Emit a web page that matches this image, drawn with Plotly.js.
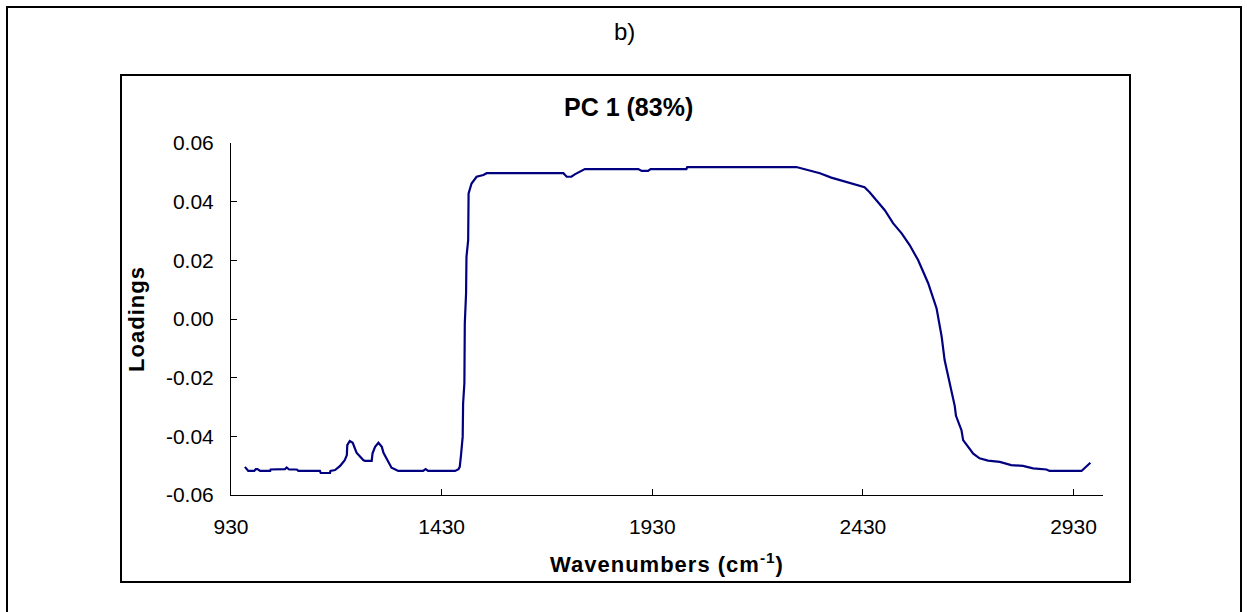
<!DOCTYPE html>
<html>
<head>
<meta charset="utf-8">
<script src="https://cdn.plot.ly/plotly-3.0.1.min.js"></script>
<style>
html,body{margin:0;padding:0;background:#fff;}
#chart{width:1247px;height:612px;}
#chart .xtitle, #chart .ytitle{letter-spacing:1px !important;}
</style>
</head>
<body>
<div id="chart"></div>
<script>
// Wavenumbers (cm-1)
const wavenumbers = [963,971,985,989,993,999,1023,1024,1058,1062,1068,1086,1090,1141,1143,1165,1166,1177,1189,1200,1205,1206,1212,1219,1228,1236,1244,1248,1264,1266,1272,1280,1288,1292,1303,1311,1319,1327,1386,1392,1398,1462,1470,1473,1476,1480,1481,1484,1485,1488,1489,1493,1494,1501,1513,1529,1537,1719,1727,1738,1746,1758,1770,1897,1905,1920,1926,2011,2013,2272,2296,2328,2355,2383,2403,2434,2446,2466,2482,2502,2522,2541,2561,2575,2585,2605,2617,2624,2636,2648,2651,2664,2668,2680,2692,2707,2727,2755,2782,2810,2834,2866,2873,2949,2970];
// PC 1 loadings
const loadings = [-0.0504,-0.0518,-0.0518,-0.0512,-0.0512,-0.0518,-0.0518,-0.0513,-0.0512,-0.0506,-0.0513,-0.0513,-0.0518,-0.0518,-0.0525,-0.0525,-0.0518,-0.0515,-0.0501,-0.0481,-0.0464,-0.0430,-0.0416,-0.0422,-0.0456,-0.0470,-0.0481,-0.0484,-0.0484,-0.0458,-0.0436,-0.0422,-0.0436,-0.0456,-0.0487,-0.0507,-0.0512,-0.0518,-0.0518,-0.0512,-0.0518,-0.0518,-0.0512,-0.0504,-0.0464,-0.0401,-0.0288,-0.0219,-0.0015,0.0087,0.0212,0.0269,0.0428,0.0462,0.0485,0.0491,0.0497,0.0497,0.0485,0.0485,0.0493,0.0502,0.0511,0.0511,0.0505,0.0505,0.0511,0.0511,0.0518,0.0518,0.0508,0.0497,0.0482,0.0470,0.0462,0.0449,0.0432,0.0400,0.0371,0.0326,0.0292,0.0252,0.0201,0.0155,0.0122,0.0036,-0.0060,-0.0140,-0.0219,-0.0296,-0.0330,-0.0379,-0.0413,-0.0436,-0.0459,-0.0475,-0.0483,-0.0487,-0.0498,-0.0501,-0.0509,-0.0513,-0.0518,-0.0518,-0.0490];

const xTickVals = [930,1430,1930,2430,2930];
const xTickText = ["930","1430","1930","2430","2930"];
const yTickVals = [-0.06,-0.04,-0.02,0,0.02,0.04,0.06];
const yTickText = ["-0.06","-0.04","-0.02","0.00","0.02","0.04","0.06"];

const panelLabel = "b)";
const chartTitle = "<b>PC 1 (83%)</b>";
const xTitle = "<b>Wavenumbers (cm<sup>-1</sup>)</b>";
const yTitle = "<b>Loadings</b>";

const FONT = "Liberation Sans, Arial, sans-serif";

// plot area in pixels: x 231..1103, y 143..495
const L = 231, R = 1103, T = 143, B = 495;
const W = 1247, H = 612;
const px = v => (v - L) / (R - L);
const py = v => (B - v) / (B - T);

const trace = {
  x: wavenumbers, y: loadings, type: 'scatter', mode: 'lines',
  line: {color: '#000080', width: 2.2}, hoverinfo: 'x+y'
};

const layout = {
  width: W, height: H,
  margin: {l: L, r: W - R, t: T, b: H - B, pad: 0},
  paper_bgcolor: '#fff', plot_bgcolor: '#fff',
  showlegend: false,
  font: {family: FONT, size: 21, color: '#000'},
  xaxis: {
    range: [930, 3000], tickvals: xTickVals, ticktext: xTickText,
    ticks: 'inside', ticklen: 6, tickwidth: 1, tickcolor: '#000',
    showline: true, linecolor: '#000', linewidth: 1,
    showgrid: false, zeroline: false, ticklabelstandoff: 13,
    tickfont: {family: FONT, size: 21},
    title: {text: xTitle, font: {family: FONT, size: 22}, standoff: 19}
  },
  yaxis: {
    range: [-0.06, 0.06], tickvals: yTickVals, ticktext: yTickText,
    ticks: 'inside', ticklen: 6, tickwidth: 1, tickcolor: '#000',
    showline: true, linecolor: '#000', linewidth: 1,
    showgrid: false, zeroline: false, ticklabelstandoff: 12,
    tickfont: {family: FONT, size: 21},
    title: {text: yTitle, font: {family: FONT, size: 22}, standoff: 15}
  },
  annotations: [
    {text: panelLabel, xref: 'paper', yref: 'paper', x: px(624), y: py(31),
     xanchor: 'center', yanchor: 'middle', showarrow: false,
     font: {family: FONT, size: 24}},
    {text: chartTitle, xref: 'paper', yref: 'paper', x: px(628), y: py(107),
     xanchor: 'center', yanchor: 'middle', showarrow: false,
     font: {family: FONT, size: 25}}
  ],
  shapes: [
    {type: 'rect', xref: 'paper', yref: 'paper', x0: px(7), x1: px(1241), y0: py(7), y1: py(640),
     line: {color: '#000', width: 2}, fillcolor: 'rgba(0,0,0,0)', layer: 'below'},
    {type: 'rect', xref: 'paper', yref: 'paper', x0: px(121), x1: px(1130), y0: py(75), y1: py(582),
     line: {color: '#000', width: 2}, fillcolor: 'rgba(0,0,0,0)', layer: 'below'}
  ]
};

Plotly.newPlot('chart', [trace], layout, {displayModeBar: false, staticPlot: true});
</script>
</body>
</html>
